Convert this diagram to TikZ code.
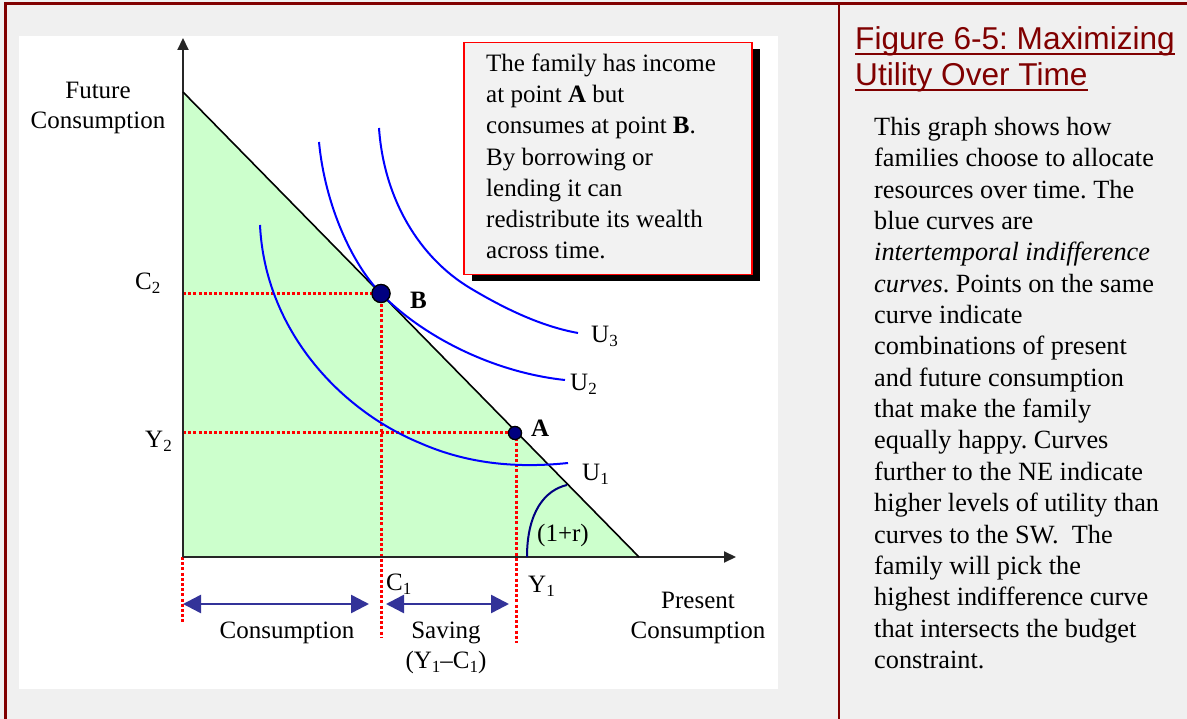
\documentclass[tikz,border=0pt]{standalone}
\usepackage{fontspec}
\setmainfont{Liberation Serif}
\newfontfamily\arialfont{Liberation Sans}
\usetikzlibrary{arrows.meta,shadows}
\definecolor{bggray}{HTML}{F0F0F0}
\definecolor{framered}{HTML}{800000}
\definecolor{budgetfill}{HTML}{CCFFCC}
\definecolor{dotred}{HTML}{FF0000}
\definecolor{navyblue}{HTML}{000080}
\definecolor{arrowblue}{HTML}{333399}
\definecolor{boxfill}{HTML}{F2F2F2}
\definecolor{curveblue}{HTML}{0000FF}
\newcommand{\lowsub}[1]{\raisebox{-4pt}{\fontsize{17}{17}\selectfont #1}}
\frenchspacing
\begin{document}
\begin{tikzpicture}[x=1pt,y=-1pt,
  lbl/.style={font=\fontsize{25}{30}\selectfont, inner sep=0},
  axisline/.style={line width=2, draw=black!85, -{Triangle[length=12,width=11]}},
  reddot/.style={draw=dotred, line width=3, dash pattern=on 3 off 2.2},
  ucurve/.style={draw=curveblue, line width=2},
  span/.style={draw=arrowblue, line width=2.5, {Triangle[length=18,width=18]}-{Triangle[length=18,width=18]}},
  dotpt/.style={circle, fill=navyblue, draw=black, line width=1.2, inner sep=0}]
\useasboundingbox (0,0) rectangle (1187,719);
\fill[bggray] (0,0) rectangle (1187,719);
\fill[white] (19,36) rectangle (778,689);
\draw[framered, line width=3] (5,719) -- (5,4) -- (1187,4);
\draw[framered, line width=2] (839,4) -- (839,719);

% coordinates
\coordinate (O) at (183,557);
\coordinate (yint) at (183,92);
\coordinate (xint) at (639,557);
\coordinate (ytop) at (183,38);
\coordinate (xend) at (736,557);

% budget set
\fill[budgetfill] (yint) -- (O) -- (xint) -- cycle;

% points
\node[dotpt, minimum size=18] (B) at (381,293.5) {};
\node[dotpt, minimum size=13] (A) at (515,433) {};
\coordinate (C1low) at (381,637);
\coordinate (Y1low) at (516,643);
\coordinate (Olow) at (182,624);

% dotted guides
\draw[reddot] (B.center -| O) -- (B.center);
\draw[reddot] (B.center) -- (C1low);
\draw[reddot] (A.center -| O) -- (A.center);
\draw[reddot] (A.center -| Y1low) -- (Y1low);
\draw[reddot] (O -| Olow) -- (Olow);

% axes and budget line
\draw[axisline] (O) -- (ytop);
\draw[axisline] (O) -- (xend);
\draw[line width=1.6] (yint) -- (xint);

% indifference curves
\draw[ucurve] (260,225) .. controls (265,330) and (340,410) .. (420,443) .. controls (470,465) and (520,468) .. (568,463);
\draw[ucurve] (319,142) .. controls (325,205) and (352,264) .. (B.center) .. controls (420,334) and (490,372) .. (565,380);
\draw[ucurve] (379,128) .. controls (384,200) and (420,258) .. (470,288) .. controls (510,312) and (545,327) .. (578,333);
\draw[navyblue, line width=2] (527,557) .. controls (527,512) and (545,490) .. (567,485);

% redraw points on top
\node[dotpt, minimum size=18] at (B) {};
\node[dotpt, minimum size=13] at (A) {};

% labels
\node[lbl, anchor=base] (fut) at (98,99) {Future};
\node[lbl, anchor=base] (futc) at (98,129) {Consumption};
\node[lbl, anchor=base west] (c2) at (135,290) {C\lowsub{2}};
\node[lbl, anchor=base west] (y2) at (145,447) {Y\lowsub{2}};
\node[lbl, anchor=base west, font=\fontsize{25}{30}\selectfont\bfseries] (Blbl) at (410,309) {B};
\node[lbl, anchor=base west, font=\fontsize{25}{30}\selectfont\bfseries] (Albl) at (531,436) {A};
\node[lbl, anchor=base west] (u3) at (591,343) {U\lowsub{3}};
\node[lbl, anchor=base west] (u2) at (570,391) {U\lowsub{2}};
\node[lbl, anchor=base west] (u1) at (582,480) {U\lowsub{1}};
\node[lbl, anchor=base west] (rate) at (537,541) {(1+r)};
\node[lbl, anchor=base west] (c1) at (386,590) {C\lowsub{1}};
\node[lbl, anchor=base west] (y1) at (528,592) {Y\lowsub{1}};
\node[lbl, anchor=base] (pres) at (698,608) {Present};
\node[lbl, anchor=base] (presc) at (698,638) {Consumption};
\node[lbl, anchor=base] (cons) at (287,638) {Consumption};
\node[lbl, anchor=base] (sav) at (446,638) {Saving};
\node[lbl, anchor=base] (savf) at (446,668) {(Y\lowsub{1}--C\lowsub{1})};

% span arrows
\coordinate (s1a) at (183,604);
\coordinate (s1b) at (369,604);
\coordinate (s2a) at (386,604);
\coordinate (s2b) at (509,604);
\draw[span] (s1a) -- (s1b);
\draw[span] (s2a) -- (s2b);

% text box
\node[draw=dotred, line width=1.5, fill=boxfill, minimum width=288, minimum height=232, inner sep=0,
  drop shadow={shadow xshift=8pt, shadow yshift=-7pt, fill=black, opacity=1}] (box) at (608,158.5) {};
\node[anchor=north west, align=left, inner sep=0, font=\fontsize{25}{31.2}\selectfont] (boxtxt) at (486,53.7)
  {The family has income\\ at point \textbf{A} but\\ consumes at point \textbf{B}.\\ By borrowing or\\ lending it can\\ redistribute its wealth\\ across time.};

% title
\node[anchor=base west, inner sep=0, text=framered, font=\arialfont\fontsize{31.6}{35}\selectfont] (t1) at (855,50) {Figure 6-5: Maximizing};
\node[anchor=base west, inner sep=0, text=framered, font=\arialfont\fontsize{31.6}{35}\selectfont] (t2) at (855,86) {Utility Over Time};
\draw[framered, line width=2] ([yshift=-4.5pt]t1.base west) -- ([yshift=-4.5pt]t1.base east);
\draw[framered, line width=2] ([yshift=-4.5pt]t2.base west) -- ([yshift=-4.5pt]t2.base east);

% description
\node[anchor=north west, align=left, inner sep=0, font=\fontsize{26.3}{31.35}\selectfont] (desc) at (874,117)
  {This graph shows how\\ families choose to allocate\\ resources over time. The\\ blue curves are\\ \textit{intertemporal indifference}\\ \textit{curves}. Points on the same\\ curve indicate\\ combinations of present\\ and future consumption\\ that make the family\\ equally happy. Curves\\ further to the NE indicate\\ higher levels of utility than\\ curves to the SW.~ The\\ family will pick the\\ highest indifference curve\\ that intersects the budget\\ constraint.};
\end{tikzpicture}
\end{document}
